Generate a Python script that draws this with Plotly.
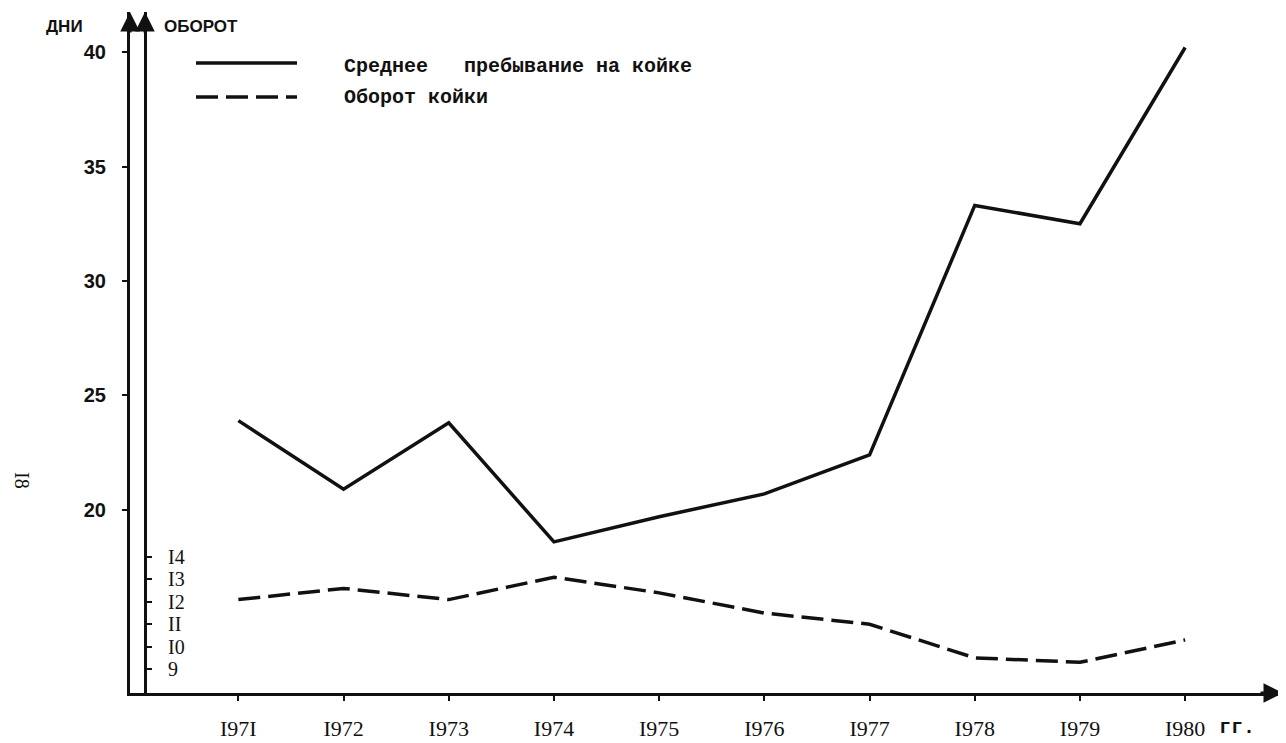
import plotly.graph_objects as go

# ---- data ----
years = [1971, 1972, 1973, 1974, 1975, 1976, 1977, 1978, 1979, 1980]
year_labels = ["I97I", "I972", "I973", "I974", "I975", "I976", "I977", "I978", "I979", "I980"]
avg_stay_days = [23.9, 20.9, 23.8, 18.6, 19.7, 20.7, 22.4, 33.3, 32.5, 40.2]
bed_turnover = [12.1, 12.6, 12.1, 13.1, 12.4, 11.5, 11.0, 9.5, 9.3, 10.3]
days_ticks = [20, 25, 30, 35, 40]
days_tick_labels = ["20", "25", "30", "35", "40"]
turn_ticks = [9, 10, 11, 12, 13, 14]
turn_tick_labels = ["9", "I0", "II", "I2", "I3", "I4"]
name_stay = "Среднее\u00a0\u00a0\u00a0пребывание на койке"
name_turn = "Оборот койки"

# page body adds an 8px offset; figure is sized so the plot lands where the reference has it
OFF = 8
W, H = 1286 - OFF, 743 - OFF
ML, MR, MT, MB = 130 - OFF, 3, 12 - OFF, 50
PW, PH = W - ML - MR, H - MT - MB


def px(x):  # screen x (reference pixels) -> paper
    return (x - OFF - ML) / PW


def py(y):  # screen y (reference pixels) -> paper
    return (H - MB - (y - OFF)) / PH


INK = "#111111"
right_axis_pos = px(145)

fig = go.Figure()
fig.add_trace(go.Scatter(
    x=years, y=avg_stay_days, mode="lines", name=name_stay,
    line=dict(color=INK, width=3.5), yaxis="y", showlegend=False,
))
fig.add_trace(go.Scatter(
    x=years, y=bed_turnover, mode="lines", name=name_turn,
    line=dict(color=INK, width=3.5, dash="22px,8px"), yaxis="y2", showlegend=False,
))

fig.update_layout(
    width=W, height=H,
    margin=dict(l=ML, r=MR, t=MT, b=MB, autoexpand=False),
    paper_bgcolor="white", plot_bgcolor="white",
    xaxis=dict(
        range=[1969.97, 1980.93], tickvals=years, ticktext=year_labels,
        showgrid=False, zeroline=False, showline=True, linecolor=INK, linewidth=3,
        ticks="outside", ticklen=5, tickwidth=2, tickcolor=INK, automargin=False,
        tickfont=dict(family="Liberation Serif", size=22, color=INK),
        ticklabelstandoff=9,
    ),
    yaxis=dict(
        range=[12.0, 41.75], tickvals=days_ticks, ticktext=days_tick_labels,
        showgrid=False, zeroline=False, showline=True, linecolor=INK, linewidth=3,
        ticks="outside", ticklen=5, tickwidth=2, tickcolor=INK, automargin=False,
        tickfont=dict(family="Liberation Sans", size=20, color=INK, weight="bold"),
        ticklabelstandoff=12,
    ),
    yaxis2=dict(
        range=[7.93, 38.33], tickvals=turn_ticks, ticktext=turn_tick_labels,
        overlaying="y", anchor="free", position=right_axis_pos, side="right",
        showgrid=False, zeroline=False, showline=True, linecolor=INK, linewidth=3,
        ticks="outside", ticklen=5, tickwidth=2, tickcolor=INK, automargin=False,
        tickfont=dict(family="Liberation Serif", size=20, color=INK),
        ticklabelstandoff=12,
    ),
)

# axis arrows
for ax_x, ax_y, dx, dy in [(0, 1, 0, 22), (right_axis_pos, 1, 0, 22), (1, 0, -24, 0)]:
    fig.add_annotation(
        x=ax_x, y=ax_y, xref="paper", yref="paper", text="", showarrow=True,
        ax=dx, ay=dy, axref="pixel", ayref="pixel",
        arrowhead=2, arrowsize=1.3, arrowwidth=3, arrowcolor=INK, standoff=0,
    )

# axis titles
fig.add_annotation(x=px(64), y=py(27), xref="paper", yref="paper", text="ДНИ",
                   showarrow=False, xanchor="center", yanchor="middle",
                   font=dict(family="Liberation Sans", size=17, color=INK, weight="bold"))
fig.add_annotation(x=px(201), y=py(27), xref="paper", yref="paper", text="ОБОРОТ",
                   showarrow=False, xanchor="center", yanchor="middle",
                   font=dict(family="Liberation Sans", size=17, color=INK, weight="bold"))

# "гг." after the last year label
fig.add_annotation(x=years[-1], y=0, xref="x", yref="paper", text="гг.", showarrow=False,
                   xshift=52, yshift=-34, xanchor="center", yanchor="middle",
                   font=dict(family="Liberation Mono", size=20, color=INK, weight="bold"))

# page number
fig.add_annotation(x=px(22), y=py(480), xref="paper", yref="paper", text="I8", showarrow=False,
                   xanchor="center", yanchor="middle",
                   textangle=90, font=dict(family="Liberation Serif", size=20, color=INK))

# legend (keys + labels)
fig.add_shape(type="line", xref="paper", yref="paper", x0=px(196), x1=px(297), y0=py(63), y1=py(63),
              line=dict(color=INK, width=3.5))
fig.add_shape(type="line", xref="paper", yref="paper", x0=px(196), x1=px(297), y0=py(97), y1=py(97),
              line=dict(color=INK, width=3.5, dash="22px,8px"))
fig.add_annotation(x=px(342), y=py(67), xref="paper", yref="paper", text=name_stay, showarrow=False,
                   xanchor="left", yanchor="middle",
                   font=dict(family="Liberation Mono", size=20, color=INK, weight="bold"))
fig.add_annotation(x=px(342), y=py(98), xref="paper", yref="paper", text=name_turn, showarrow=False,
                   xanchor="left", yanchor="middle",
                   font=dict(family="Liberation Mono", size=20, color=INK, weight="bold"))

fig.write_html("out.html")
